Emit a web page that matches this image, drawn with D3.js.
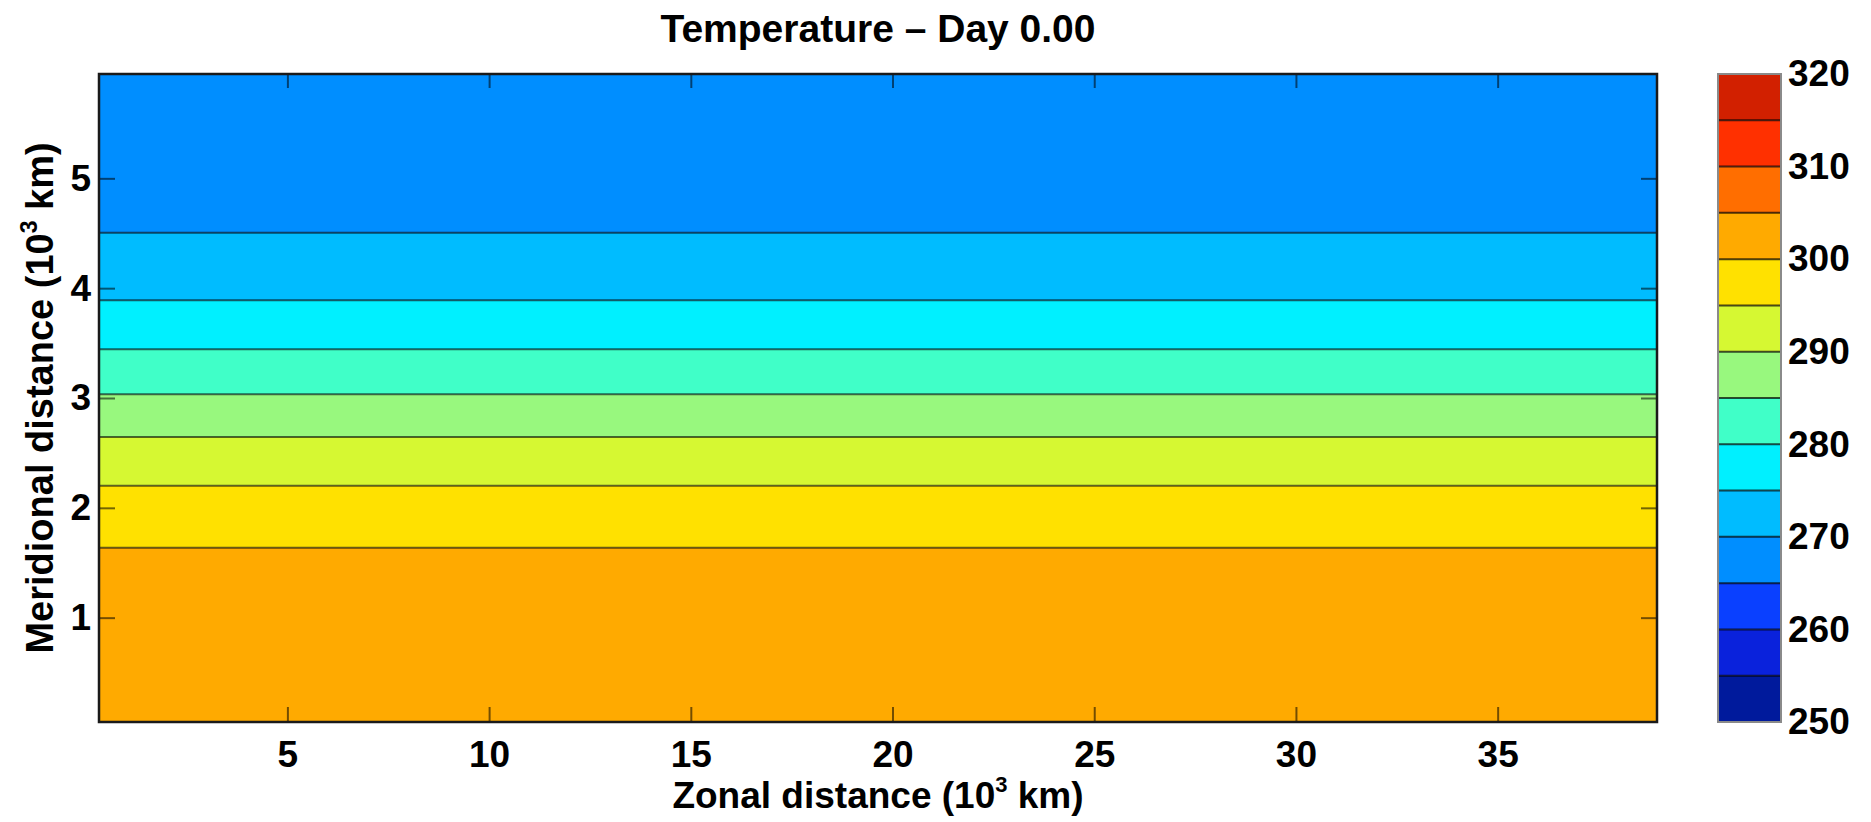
<!DOCTYPE html>
<html>
<head>
<meta charset="utf-8">
<script src="https://cdn.jsdelivr.net/npm/d3@7"></script>
<style>
  html, body { margin: 0; padding: 0; background: #ffffff; }
  svg { display: block; font-family: "Liberation Sans", Arial, Helvetica, sans-serif; font-weight: bold; }
</style>
</head>
<body>
<svg id="chart" width="1871" height="822"></svg>
<script>
// Temperature field (day 0): zonally uniform, so it is described by the
// meridional positions (10^3 km) where it crosses each contour level.
const contourLevels = [300, 295, 290, 285, 280, 275, 270];
const contourY      = [1.637, 2.202, 2.645, 3.034, 3.444, 3.890, 4.504];

// Grid extent of the domain (10^3 km, cell centres)
const xExtent = [0.33, 38.95];
const yExtent = [0.05, 5.95];

// Colour classes: 5 K bands from 250 K to 320 K
const colorEdges = [250, 255, 260, 265, 270, 275, 280, 285, 290, 295, 300, 305, 310, 315, 320];
const bandColors = ["#001a9c", "#0a22dc", "#0a40ff", "#008eff", "#00bcff", "#00f0ff", "#40ffc8",
                    "#98f87e", "#d6f832", "#ffe100", "#ffaa00", "#ff6e00", "#ff3000", "#d22000"];

// Tick labels
const xTicks  = [5, 10, 15, 20, 25, 30, 35];
const yTicks  = [1, 2, 3, 4, 5];
const cbTicks = [250, 260, 270, 280, 290, 300, 310, 320];

const titleText = "Temperature \u2013 Day 0.00";

const svg = d3.select("#chart");
const plot = { left: 99, right: 1657, top: 74, bottom: 722 };
const cb = { left: 1718, right: 1781, top: 74, bottom: 722 };

const x = d3.scaleLinear().domain(xExtent).range([plot.left, plot.right]);
const y = d3.scaleLinear().domain(yExtent).range([plot.bottom, plot.top]);
const color = d3.scaleThreshold().domain(colorEdges.slice(1, -1)).range(bandColors);

// Filled bands between consecutive contour crossings
const edges = [yExtent[0], ...contourY, yExtent[1]];
const lvlAll = [contourLevels[0] + 5, ...contourLevels, contourLevels[contourLevels.length - 1] - 5];
const bands = d3.range(edges.length - 1).map(i => ({
  y0: edges[i], y1: edges[i + 1],
  t: (lvlAll[i] + lvlAll[i + 1]) / 2
}));

const g = svg.append("g");
g.selectAll("rect.band").data(bands).join("rect")
  .attr("class", "band")
  .attr("x", x(xExtent[0]))
  .attr("width", x(xExtent[1]) - x(xExtent[0]))
  .attr("y", d => y(d.y1))
  .attr("height", d => y(d.y0) - y(d.y1))
  .attr("fill", d => color(d.t));

// Contour lines
g.selectAll("line.contour").data(contourY).join("line")
  .attr("class", "contour")
  .attr("x1", x(xExtent[0])).attr("x2", x(xExtent[1]))
  .attr("y1", d => y(d)).attr("y2", d => y(d))
  .attr("stroke", "rgba(0,0,0,0.6)").attr("stroke-width", 2);

// Axes with inward ticks on all four sides
const tickStroke = "rgba(0,0,0,0.55)";
function styleAxis(sel) {
  sel.select(".domain").remove();
  sel.selectAll(".tick line").attr("stroke", tickStroke).attr("stroke-width", 2);
  sel.selectAll(".tick text").attr("fill", "#000").style("font-size", "37px").style("font-weight", "bold");
}
svg.append("g").attr("transform", `translate(0,${plot.bottom})`)
  .call(d3.axisBottom(x).tickValues(xTicks).tickSize(-15).tickPadding(19).tickFormat(d3.format("d")))
  .call(styleAxis);
svg.append("g").attr("transform", `translate(0,${plot.top})`)
  .call(d3.axisTop(x).tickValues(xTicks).tickSize(-14).tickFormat(""))
  .call(styleAxis);
svg.append("g").attr("transform", `translate(${plot.left},0)`)
  .call(d3.axisLeft(y).tickValues(yTicks).tickSize(-16).tickPadding(8).tickFormat(d3.format("d")))
  .call(styleAxis);
svg.append("g").attr("transform", `translate(${plot.right},0)`)
  .call(d3.axisRight(y).tickValues(yTicks).tickSize(-16).tickFormat(""))
  .call(styleAxis);

// Plot frame
svg.append("rect")
  .attr("x", plot.left).attr("y", plot.top)
  .attr("width", plot.right - plot.left).attr("height", plot.bottom - plot.top)
  .attr("fill", "none").attr("stroke", "#1a1a1a").attr("stroke-width", 2.5);

// Colour bar
const cbScale = d3.scaleLinear().domain([colorEdges[0], colorEdges[colorEdges.length - 1]]).range([cb.bottom, cb.top]);
const cbBands = d3.range(colorEdges.length - 1).map(i => ({ t0: colorEdges[i], t1: colorEdges[i + 1] }));
svg.append("g").selectAll("rect").data(cbBands).join("rect")
  .attr("x", cb.left).attr("width", cb.right - cb.left)
  .attr("y", d => cbScale(d.t1))
  .attr("height", d => cbScale(d.t0) - cbScale(d.t1))
  .attr("fill", d => color((d.t0 + d.t1) / 2));
svg.append("g").selectAll("line").data(colorEdges.slice(1, -1)).join("line")
  .attr("x1", cb.left).attr("x2", cb.right)
  .attr("y1", d => cbScale(d)).attr("y2", d => cbScale(d))
  .attr("stroke", "rgba(0,0,0,0.7)").attr("stroke-width", 2);
svg.append("rect")
  .attr("x", cb.left).attr("y", cb.top)
  .attr("width", cb.right - cb.left).attr("height", cb.bottom - cb.top)
  .attr("fill", "none").attr("stroke", "#8a8a8a").attr("stroke-width", 2);
svg.append("g").attr("transform", `translate(${cb.right},0)`)
  .call(d3.axisRight(cbScale).tickValues(cbTicks).tickSize(0).tickPadding(7).tickFormat(d3.format("d")))
  .call(styleAxis);

// Title
svg.append("text")
  .attr("x", (plot.left + plot.right) / 2).attr("y", 42)
  .attr("text-anchor", "middle")
  .style("font-size", "39px")
  .text(titleText);

// Axis labels with superscript exponent
function axisLabel(sel, name, size) {
  sel.style("font-size", size + "px");
  sel.append("tspan").text(name + " (10");
  sel.append("tspan").style("font-size", Math.round(size * 0.6) + "px").attr("dy", -Math.round(size * 0.42)).text("3");
  sel.append("tspan").attr("dy", Math.round(size * 0.42)).text(" km)");
}
svg.append("text")
  .attr("x", (plot.left + plot.right) / 2).attr("y", 808)
  .attr("text-anchor", "middle")
  .call(axisLabel, "Zonal distance", 37);
svg.append("text")
  .attr("transform", `translate(53,${(plot.top + plot.bottom) / 2}) rotate(-90)`)
  .attr("text-anchor", "middle")
  .call(axisLabel, "Meridional distance", 38);
</script>
</body>
</html>
